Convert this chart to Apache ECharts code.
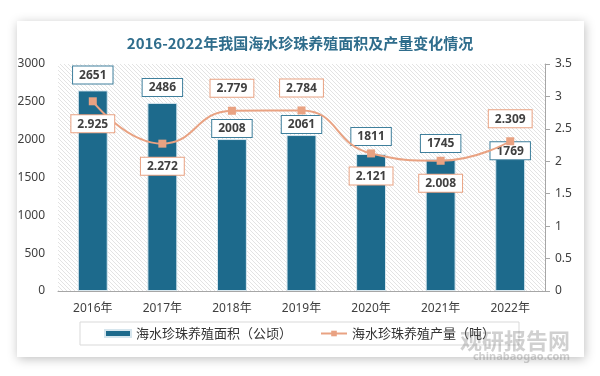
<!DOCTYPE html>
<html>
<head>
<meta charset="utf-8">
<script src="https://cdn.jsdelivr.net/npm/echarts@6/dist/echarts.min.js"></script>
<style>
  html, body { margin: 0; padding: 0; background: #fff; }
  #chart { width: 600px; height: 376px; }
</style>
</head>
<body>
<div id="chart"></div>
<script>
const years = ['2016年', '2017年', '2018年', '2019年', '2020年', '2021年', '2022年']
const area = [2651, 2486, 2008, 2061, 1811, 1745, 1769]
const output = [2.925, 2.272, 2.779, 2.784, 2.121, 2.008, 2.309]

// label nudges, per year
const barLabelDy = [-2, -2, 3, 3, -4, -2, 7]
const lineLabelPos = ['bottom', 'bottom', 'top', 'top', 'bottom', 'bottom', 'top']

const hatch = (() => {
  const c = document.createElement('canvas')
  c.width = 4
  c.height = 4
  const g = c.getContext('2d')
  g.fillStyle = '#fff'
  g.fillRect(0, 0, 4, 4)
  g.strokeStyle = '#e3e3e3'
  g.lineWidth = 1
  g.beginPath()
  g.moveTo(-1, -1); g.lineTo(5, 5)
  g.moveTo(-1, 3); g.lineTo(1, 5)
  g.moveTo(3, -1); g.lineTo(5, 1)
  g.stroke()
  return c
})()

const teal = '#1d6a8c'
const salmon = '#e9a282'
const font = '"Noto Sans", "Noto Sans CJK SC", sans-serif'
const cjk = '"Noto Sans CJK SC", sans-serif'

const chart = echarts.init(document.getElementById('chart'))
chart.setOption({
  textStyle: { fontFamily: font },
  title: {
    text: '2016-2022年我国海水珍珠养殖面积及产量变化情况',
    left: 'center',
    top: 31,
    textStyle: { fontSize: 15, fontWeight: 'bold', color: '#2f6d8c', fontFamily: cjk },
  },
  graphic: [
    {
      type: 'rect',
      z: -10,
      shape: { x: 17, y: 21, width: 567, height: 336 },
      style: { fill: '#fff', shadowBlur: 10, shadowColor: 'rgba(0,0,0,0.25)', shadowOffsetX: 1, shadowOffsetY: 2 },
    },
    {
      type: 'text',
      right: 30,
      bottom: 24,
      z: 20,
      style: { text: '观研报告网', fontSize: 22, fontWeight: 'bold', fill: 'rgba(120,120,120,0.35)', fontFamily: cjk },
    },
    {
      type: 'text',
      right: 30,
      bottom: 14,
      z: 20,
      style: { text: 'chinabaogao.com', fontSize: 11, fontWeight: 'bold', fill: 'rgba(120,120,120,0.35)', fontFamily: font },
    },
  ],
  grid: {
    left: 58,
    right: 55,
    top: 64,
    bottom: 85,
    show: true,
    borderWidth: 0,
    backgroundColor: { image: hatch, repeat: 'repeat' },
  },
  legend: {
    left: 80,
    top: 322,
    width: 467,
    padding: [5, 24, 5, 24],
    borderColor: '#d9d9d9',
    borderWidth: 1,
    itemGap: 28,
    itemWidth: 26,
    itemHeight: 7,
    textStyle: { fontSize: 13, color: '#333', fontFamily: cjk },
    data: [
      { name: '海水珍珠养殖面积（公顷）', icon: 'rect' },
      { name: '海水珍珠养殖产量（吨）' },
    ],
  },
  xAxis: {
    type: 'category',
    data: years,
    axisLine: { lineStyle: { color: '#a6a6a6' } },
    axisTick: { show: false },
    axisLabel: { color: '#404040', fontSize: 12, margin: 12 },
  },
  yAxis: [
    {
      type: 'value',
      min: 0,
      max: 3000,
      interval: 500,
      splitLine: { show: false },
      axisLine: { show: false },
      axisTick: { show: false },
      axisLabel: { color: '#404040', fontSize: 12, margin: 13, formatter: v => String(v) },
    },
    {
      type: 'value',
      min: 0,
      max: 3.5,
      interval: 0.5,
      splitLine: { show: false },
      axisLine: { show: true, lineStyle: { color: '#a6a6a6' } },
      axisTick: { show: true, length: 5, lineStyle: { color: '#a6a6a6' } },
      axisLabel: { color: '#404040', fontSize: 12, margin: 10 },
    },
  ],
  series: [
    {
      name: '海水珍珠养殖面积（公顷）',
      type: 'bar',
      barWidth: '43%',
      itemStyle: { color: teal, borderColor: '#d6e6ee', borderWidth: 1 },
      data: area.map((v, i) => ({
        value: v,
        label: { offset: [0, barLabelDy[i]] },
      })),
      label: {
        show: true,
        position: 'top',
        distance: 5,
        color: '#404040',
        fontWeight: 'bold',
        fontSize: 12,
        backgroundColor: '#fff',
        borderColor: '#3f7f9c',
        borderWidth: 1,
        padding: [3, 6, 2, 6],
      },
      z: 2,
    },
    {
      name: '海水珍珠养殖产量（吨）',
      type: 'line',
      yAxisIndex: 1,
      smooth: true,
      symbol: 'rect',
      symbolSize: 8,
      color: salmon,
      lineStyle: { width: 2, color: salmon },
      data: output.map((v, i) => ({
        value: v,
        label: { position: lineLabelPos[i] },
      })),
      label: {
        show: true,
        distance: 10,
        color: '#404040',
        fontWeight: 'bold',
        fontSize: 12,
        backgroundColor: '#fff',
        borderColor: salmon,
        borderWidth: 1,
        padding: [3, 6, 2, 6],
        formatter: p => p.value.toFixed(3),
      },
      z: 3,
    },
  ],
})
</script>
</body>
</html>
